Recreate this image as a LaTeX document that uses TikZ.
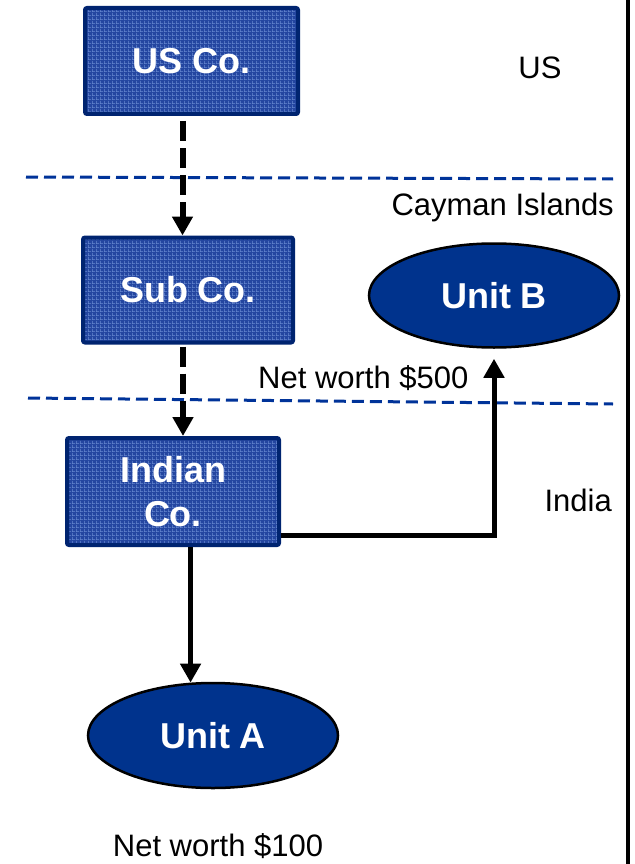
\documentclass[tikz,border=0pt]{standalone}
\usepackage{fontspec}
\setmainfont{Liberation Sans}
\usetikzlibrary{arrows.meta,patterns.meta,shapes.geometric,calc}

\definecolor{boxbase}{RGB}{36,70,160}
\definecolor{gridlight}{RGB}{105,138,210}
\definecolor{boxrim}{RGB}{0,36,112}
\definecolor{unitfill}{RGB}{0,51,141}
\definecolor{borderblue}{RGB}{0,51,153}

% fine light grid laid over the company boxes
\tikzdeclarepattern{
  name=pixgrid,
  type=uncolored,
  bounding box={(0pt,0pt) and (4pt,4pt)},
  tile size={(4pt,4pt)},
  code={
    \draw[line width=0.8pt] (0pt,0.5pt) -- (4pt,0.5pt);
    \draw[line width=0.8pt] (0.5pt,0pt) -- (0.5pt,4pt);
  }
}

\tikzset{
  company/.style={rectangle, rounded corners=2pt, line width=4pt, draw=boxrim,
    preaction={fill=boxbase}, pattern=pixgrid, pattern color=gridlight,
    text=white, align=center, inner sep=0pt,
    font=\fontsize{36}{44}\selectfont\bfseries},
  unit/.style={ellipse, fill=unitfill, draw=black, line width=2.5pt,
    text=white, inner sep=0pt, font=\fontsize{36}{44}\selectfont\bfseries},
  label/.style={font=\fontsize{31}{36}\selectfont, inner sep=0pt},
  border/.style={draw=borderblue, line width=3pt, dash pattern=on 12pt off 6pt},
  holding/.style={line width=6pt, dash pattern=on 20pt off 7pt,
    -{Triangle[length=19pt,width=20pt]}},
  owns/.style={line width=5pt, -{Triangle[length=19pt,width=20pt]}}
}

\begin{document}
\begin{tikzpicture}[x=1pt,y=-1pt]
\useasboundingbox (0,0) rectangle (634,864);

% country borders
\draw[border] (26,177) -- (613,179);
\draw[border] (28,398) -- (613,404);
% frame edge on the right
\draw[line width=4pt] (628,0) -- (628,864);

% companies
\node[company, minimum width=213pt, minimum height=106pt] (usco) at (191.5,61) {US Co.};
\node[company, minimum width=210pt, minimum height=105pt] (subco) at (188,290) {Sub Co.};
\node[company, minimum width=212pt, minimum height=107pt] (indco) at (173,491.5) {Indian\\Co.};

% operating units
\node[unit, minimum width=250pt, minimum height=104pt] (unitb) at (494,295.5) {Unit B};
\node[unit, minimum width=250pt, minimum height=105pt] (unita) at (213,735.5) {Unit A};

% region names and values
\node[label, anchor=base] (lus) at (540,79) {US};
\node[label, anchor=base east] (lcay) at (614,215) {Cayman Islands};
\node[label, anchor=base east] (lind) at (612,511) {India};
\node[label, anchor=base west] (nwb) at (258,388) {Net worth \$500};
\node[label, anchor=base] (nwa) at (218,856) {Net worth \$100};

% ownership chain
\draw[holding] ([xshift=-9pt,yshift=-5pt]usco.south) -- ([xshift=-9pt]usco.south |- subco.north);
\draw[holding] ([xshift=-5pt,yshift=-2pt]subco.south) -- ([xshift=-5pt]subco.south |- indco.north);
\draw[owns] (unita.113 |- indco.south) -- (unita.113);
\draw[owns] ([yshift=-44pt]indco.east) -| ([yshift=-10pt]unitb.south);
\end{tikzpicture}
\end{document}
